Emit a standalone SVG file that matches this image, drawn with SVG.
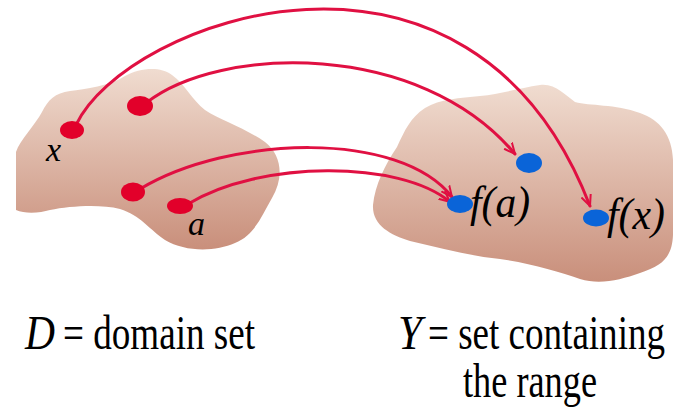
<svg xmlns="http://www.w3.org/2000/svg" width="675" height="409" viewBox="0 0 675 409">
<style>
.blob{stroke:none}
.arc{fill:none;stroke:#e01042;stroke-width:3;stroke-linecap:round}
.rdot{fill:#e2002a}
.bdot{fill:#0a64d8}
.lbl{font-family:"Liberation Serif","Times New Roman",serif;fill:#000}
.cap{font-size:36px}
.it{font-style:italic}
</style>
<defs>
<linearGradient id="g" x1="0" y1="0" x2="0" y2="1">
<stop offset="0" stop-color="#f0dcd0"/>
<stop offset="1" stop-color="#c98f7b"/>
</linearGradient>
<marker id="ah" viewBox="0 0 12 12" refX="11" refY="6" markerWidth="12" markerHeight="12" markerUnits="userSpaceOnUse" orient="auto">
<path d="M0,1 L11,6 L0,11" fill="none" stroke="#e01042" stroke-width="2"/>
</marker>
</defs>
<g id="domain">
<path class="blob" fill="url(#g)" d="M16,210 L16,152 C20,140 35,125 42,112 C48,100 55,93 70,91 C85,89 110,86 125,76 C140,68 160,66 172,75 C185,84 192,100 205,110 C220,120 245,128 265,142 C282,155 284,178 272,198 C262,215 255,235 235,243 C215,252 185,252 165,240 C150,230 140,215 120,209 C100,204 70,206 50,210 C40,213 25,214 16,210 Z"/>
</g>
<g id="codomain">
<path class="blob" fill="url(#g)" d="M373,205 C375,185 385,165 397,147 C405,130 410,118 425,108 C440,99 460,98 480,96 C500,94 520,88 540,85 C555,83 565,95 575,102 C590,106 615,104 640,113 C660,120 672,135 673,160 L673,235 C672,255 665,265 640,273 C620,280 600,285 580,279 C560,272 530,263 500,259 C470,256 440,248 410,241 C390,235 372,225 373,205 Z"/>
</g>
<g id="connectors">
<path class="arc" marker-end="url(#ah)" d="M76,125 C125,20 470,-105 590,206"/>
<path class="arc" marker-end="url(#ah)" d="M146,103 C220,45 420,40 515,154"/>
<path class="arc" marker-end="url(#ah)" d="M140,189 C230,135 400,130 452,197"/>
<path class="arc" marker-end="url(#ah)" d="M188,204 C260,160 400,160 450,202"/>
</g>
<g id="point-x">
<ellipse class="rdot" cx="72" cy="130" rx="12" ry="9"/>
<text class="lbl it" x="46" y="161" font-size="34">x</text>
</g>
<g id="point-2">
<ellipse class="rdot" cx="140" cy="106" rx="13" ry="10"/>
</g>
<g id="point-3">
<ellipse class="rdot" cx="133" cy="192" rx="12" ry="9.5"/>
</g>
<g id="point-a">
<ellipse class="rdot" cx="180" cy="206" rx="13" ry="8"/>
<text class="lbl it" x="188" y="235" font-size="34">a</text>
</g>
<g id="image-2">
<ellipse class="bdot" cx="529" cy="163" rx="13" ry="10"/>
</g>
<g id="image-fa">
<ellipse class="bdot" cx="460" cy="204" rx="13" ry="9"/>
<text class="lbl it" transform="translate(470,217) scale(1,1.3)" font-size="34" textLength="60" lengthAdjust="spacingAndGlyphs">f(a)</text>
</g>
<g id="image-fx">
<ellipse class="bdot" cx="596" cy="218" rx="13" ry="8.5"/>
<text class="lbl it" transform="translate(607,229) scale(1,1.3)" font-size="34" textLength="58" lengthAdjust="spacingAndGlyphs">f(x)</text>
</g>
<g id="caption-domain">
<text class="lbl cap it" transform="translate(25,349) scale(1,1.333)" textLength="30" lengthAdjust="spacingAndGlyphs">D</text>
<text class="lbl cap" transform="translate(63,349) scale(1,1.333)" textLength="192" lengthAdjust="spacingAndGlyphs">= domain set</text>
</g>
<g id="caption-range">
<text class="lbl cap it" transform="translate(398,349) scale(1,1.333)" textLength="24" lengthAdjust="spacingAndGlyphs">Y</text>
<text class="lbl cap" transform="translate(428,349) scale(1,1.333)" textLength="237" lengthAdjust="spacingAndGlyphs">= set containing</text>
<text class="lbl cap" transform="translate(463,397) scale(1,1.333)" textLength="134" lengthAdjust="spacingAndGlyphs">the range</text>
</g>
</svg>
